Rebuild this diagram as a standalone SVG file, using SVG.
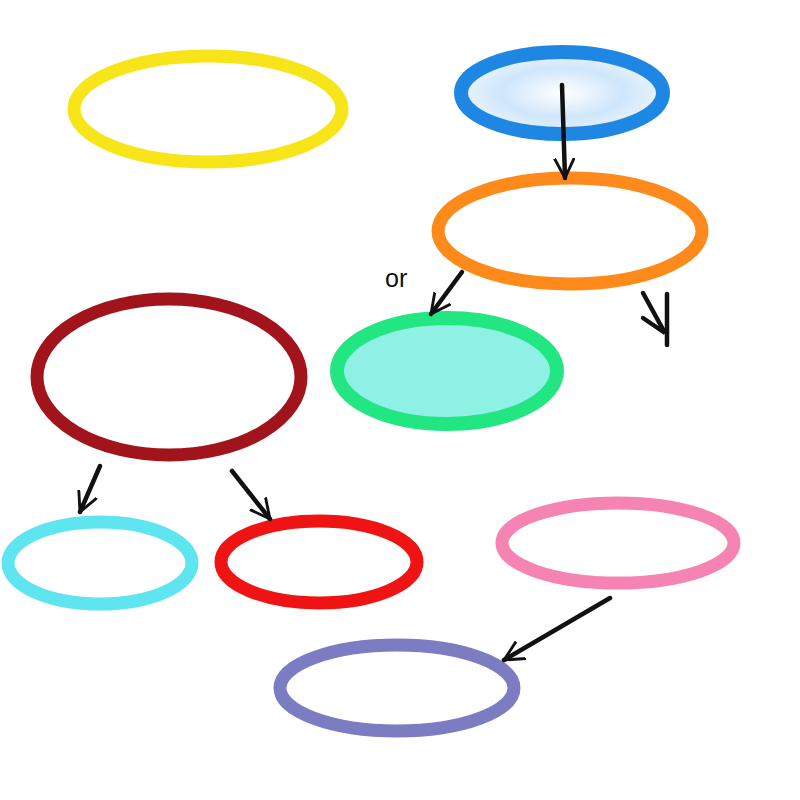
<svg xmlns="http://www.w3.org/2000/svg" width="800" height="800" viewBox="0 0 800 800">
<style>
.n{fill:none;stroke-width:13}
.c{fill:none;stroke:#111;stroke-width:4.5;stroke-linecap:round}
.lbl{font-family:"Liberation Sans",Arial,sans-serif;font-size:25px;fill:#111}
</style>
<defs>
<marker id="ah" viewBox="0 0 20 20" refX="18" refY="10" markerWidth="22" markerHeight="22" orient="auto" markerUnits="userSpaceOnUse">
<path d="M0,1 L18,10 L0,19" fill="none" stroke="#111" stroke-width="2.6" stroke-linejoin="round"/>
</marker>
<radialGradient id="bg" cx="50%" cy="50%" r="50%">
<stop offset="0" stop-color="#ffffff"/>
<stop offset="0.6" stop-color="#cfe6fb"/>
<stop offset="1" stop-color="#eaf4fd"/>
</radialGradient>
</defs>
<rect width="800" height="800" fill="#fff"/>
<g id="yellow"><ellipse cx="208" cy="109" rx="134" ry="53" class="n" stroke="#F7E51A"/></g>
<g id="blue"><ellipse cx="562" cy="93" rx="101" ry="41" fill="url(#bg)" stroke="#1E86E3" stroke-width="14"/></g>
<g id="orange"><ellipse cx="570" cy="231" rx="132" ry="53" class="n" stroke="#FF8A1C"/></g>
<g id="green"><ellipse cx="447" cy="371" rx="110" ry="53" fill="#8FF0E6" stroke="#22E681" stroke-width="14"/></g>
<g id="darkred"><ellipse cx="169" cy="377" rx="132" ry="78" class="n" stroke="#A1141C" stroke-width="14"/></g>
<g id="cyan"><ellipse cx="100" cy="563" rx="92" ry="41" class="n" stroke="#5FE5EF"/></g>
<g id="red"><ellipse cx="319" cy="562" rx="98" ry="41" class="n" stroke="#F01313" stroke-width="14"/></g>
<g id="pink"><ellipse cx="618" cy="543" rx="116" ry="40" class="n" stroke="#F584B2"/></g>
<g id="purple"><ellipse cx="397" cy="688" rx="117" ry="43" class="n" stroke="#7C7CC2"/></g>
<g id="connectors">
<line x1="562" y1="85" x2="565" y2="178" class="c" marker-end="url(#ah)"/>
<line x1="462" y1="272" x2="431" y2="314" class="c" stroke-width="6" marker-end="url(#ah)"/>
<text x="385" y="287" class="lbl">or</text>
<line x1="667" y1="294" x2="667" y2="345" class="c"/>
<polyline points="643,293 665,333 643,318" class="c"/>
<line x1="100" y1="466" x2="80" y2="512" class="c" marker-end="url(#ah)"/>
<line x1="232" y1="471" x2="270" y2="519" class="c" marker-end="url(#ah)"/>
<line x1="610" y1="598" x2="504" y2="660" class="c" marker-end="url(#ah)"/>
</g>
</svg>
